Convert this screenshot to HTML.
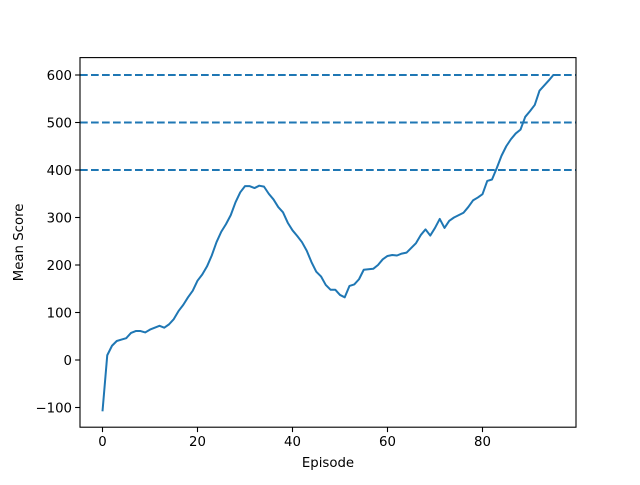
<!DOCTYPE html>
<html><head><meta charset="utf-8"><style>
body{margin:0;background:#fff}
text{font-family:"DejaVu Sans","Liberation Sans",sans-serif;font-size:13.3px;fill:#000}
</style></head><body>
<svg id="chart" width="640" height="480" xmlns="http://www.w3.org/2000/svg"></svg>
<script>
const episodes=[...Array(96).keys()];
const scores=[-108,10,30,40,43,46,57,61,61,58,64,68,72,68,75,86,103,116,132,146,167,180,197,220,248,270,286,305,332,353,366,366,362,367,365,350,338,322,311,289,273,261,248,230,206,186,176,158,148,148,137,132,156,159,170,190,191,192,200,212,219,221,220,224,226,236,246,263,275,262,278,297,278,293,300,305,310,322,336,342,349,377,380,404,430,450,465,477,485,512,524,537,567,578,589,601];
const thresholds=[400,500,600];
const xTicks=[0,20,40,60,80];
const yTicks=[-100,0,100,200,300,400,500,600];
const L=80,R=576,T=57.6,B=427.2;
const x=v=>102.5+v*4.75;
const y=v=>360-v*0.475;
const svg=document.getElementById('chart');
const NS='http://www.w3.org/2000/svg';
function mk(t,a){const e=document.createElementNS(NS,t);for(const k in a)e.setAttribute(k,a[k]);svg.appendChild(e);return e;}
thresholds.forEach(v=>{
 const l=mk('line',{x1:L,x2:R,y1:y(v),y2:y(v),stroke:'#1f77b4','stroke-width':2,'stroke-dasharray':'7.7,3.3'});
 
 
});
const p=mk('polyline',{points:episodes.map((e,i)=>x(e)+','+y(scores[i])).join(' '),fill:'none',stroke:'#1f77b4','stroke-width':2,'stroke-linejoin':'round'});


const fr=mk('rect',{x:L,y:T,width:R-L,height:B-T,fill:'none',stroke:'#000','stroke-width':1.1});


xTicks.forEach(v=>{
 mk('line',{x1:x(v),x2:x(v),y1:B,y2:B+4.9,stroke:'#000','stroke-width':1.1});
 const t=mk('text',{x:x(v),y:B+19,'text-anchor':'middle'});t.textContent=v;
 
 
});
yTicks.forEach(v=>{
 mk('line',{x1:L-4.9,x2:L,y1:y(v),y2:y(v),stroke:'#000','stroke-width':1.1});
 const t=mk('text',{x:L-8,y:y(v)+4.8,'text-anchor':'end'});t.textContent=v<0?'\u2212'+(-v):v;
 
 
});
const xt=mk('text',{x:(L+R)/2,y:467,'text-anchor':'middle'});xt.textContent='Episode';


const yt=mk('text',{x:23,y:(T+B)/2,'text-anchor':'middle',transform:'rotate(-90 23 '+(T+B)/2+')'});yt.textContent='Mean Score';


</script>
</body></html>
